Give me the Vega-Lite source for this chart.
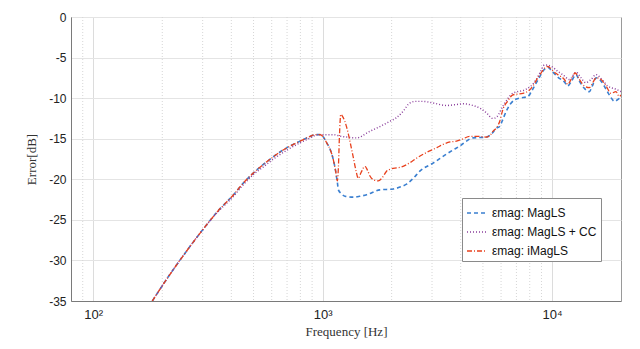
{
  "$schema": "https://vega.github.io/schema/vega-lite/v6.json",
  "width": 550,
  "height": 284,
  "autosize": {"type": "none"},
  "padding": {"left": 71, "top": 17, "right": 19, "bottom": 48},
  "background": "white",
  "config": {
    "view": {"stroke": "#9a9a9a", "strokeWidth": 1},
    "axis": {
      "labelFont": "Liberation Sans",
      "labelFontSize": 12,
      "labelColor": "#222",
      "titleFont": "Liberation Serif",
      "titleFontSize": 13,
      "titleFontWeight": "normal",
      "titleColor": "#333",
      "domainColor": "#7a7a7a",
      "ticks": false
    }
  },
  "datasets": {
    "minor": [
      {"f": 90}, {"f": 200}, {"f": 300}, {"f": 400}, {"f": 500}, {"f": 600}, {"f": 700}, {"f": 800}, {"f": 900},
      {"f": 2000}, {"f": 3000}, {"f": 4000}, {"f": 5000}, {"f": 6000}, {"f": 7000}, {"f": 8000}, {"f": 9000}
    ],
    "curves": [
      {"s": "εmag: MagLS", "f": 181, "v": -35},
      {"s": "εmag: MagLS", "f": 215, "v": -31.8},
      {"s": "εmag: MagLS", "f": 250, "v": -29.2},
      {"s": "εmag: MagLS", "f": 293, "v": -26.6},
      {"s": "εmag: MagLS", "f": 350, "v": -23.9},
      {"s": "εmag: MagLS", "f": 409, "v": -21.9},
      {"s": "εmag: MagLS", "f": 450, "v": -20.5},
      {"s": "εmag: MagLS", "f": 500, "v": -19.2},
      {"s": "εmag: MagLS", "f": 550, "v": -18.2},
      {"s": "εmag: MagLS", "f": 611, "v": -17.2},
      {"s": "εmag: MagLS", "f": 700, "v": -16.1},
      {"s": "εmag: MagLS", "f": 798, "v": -15.3},
      {"s": "εmag: MagLS", "f": 870, "v": -14.8},
      {"s": "εmag: MagLS", "f": 928, "v": -14.5},
      {"s": "εmag: MagLS", "f": 975, "v": -14.5},
      {"s": "εmag: MagLS", "f": 1008, "v": -14.8},
      {"s": "εmag: MagLS", "f": 1042, "v": -15.5},
      {"s": "εmag: MagLS", "f": 1078, "v": -16.3},
      {"s": "εmag: MagLS", "f": 1114, "v": -17.6},
      {"s": "εmag: MagLS", "f": 1140, "v": -19.0},
      {"s": "εmag: MagLS", "f": 1160, "v": -20.4},
      {"s": "εmag: MagLS", "f": 1172, "v": -21.3},
      {"s": "εmag: MagLS", "f": 1210, "v": -21.8},
      {"s": "εmag: MagLS", "f": 1253, "v": -22.1},
      {"s": "εmag: MagLS", "f": 1361, "v": -22.2},
      {"s": "εmag: MagLS", "f": 1450, "v": -22.1},
      {"s": "εmag: MagLS", "f": 1557, "v": -21.9},
      {"s": "εmag: MagLS", "f": 1778, "v": -21.3},
      {"s": "εmag: MagLS", "f": 2032, "v": -21.2},
      {"s": "εmag: MagLS", "f": 2200, "v": -20.9},
      {"s": "εmag: MagLS", "f": 2323, "v": -20.6},
      {"s": "εmag: MagLS", "f": 2500, "v": -19.8},
      {"s": "εmag: MagLS", "f": 2654, "v": -19.0},
      {"s": "εmag: MagLS", "f": 3032, "v": -18.0},
      {"s": "εmag: MagLS", "f": 3467, "v": -16.9},
      {"s": "εmag: MagLS", "f": 3962, "v": -15.9},
      {"s": "εmag: MagLS", "f": 4527, "v": -14.9},
      {"s": "εmag: MagLS", "f": 5174, "v": -14.8},
      {"s": "εmag: MagLS", "f": 5500, "v": -14.3},
      {"s": "εmag: MagLS", "f": 5720, "v": -13.7},
      {"s": "εmag: MagLS", "f": 5911, "v": -13.5},
      {"s": "εmag: MagLS", "f": 6110, "v": -12.6},
      {"s": "εmag: MagLS", "f": 6323, "v": -11.6},
      {"s": "εmag: MagLS", "f": 6600, "v": -10.7},
      {"s": "εmag: MagLS", "f": 6871, "v": -10.2},
      {"s": "εmag: MagLS", "f": 7223, "v": -10.0},
      {"s": "εmag: MagLS", "f": 7850, "v": -9.8},
      {"s": "εmag: MagLS", "f": 8100, "v": -9.3},
      {"s": "εmag: MagLS", "f": 8393, "v": -8.5},
      {"s": "εmag: MagLS", "f": 8750, "v": -7.6},
      {"s": "εmag: MagLS", "f": 9120, "v": -6.7},
      {"s": "εmag: MagLS", "f": 9588, "v": -6.2},
      {"s": "εmag: MagLS", "f": 9950, "v": -6.6},
      {"s": "εmag: MagLS", "f": 10600, "v": -7.4},
      {"s": "εmag: MagLS", "f": 11330, "v": -8.0},
      {"s": "εmag: MagLS", "f": 11710, "v": -8.5},
      {"s": "εmag: MagLS", "f": 12120, "v": -8.0},
      {"s": "εmag: MagLS", "f": 12740, "v": -7.1},
      {"s": "εmag: MagLS", "f": 13170, "v": -7.9},
      {"s": "εmag: MagLS", "f": 13850, "v": -8.8},
      {"s": "εmag: MagLS", "f": 14550, "v": -9.2},
      {"s": "εmag: MagLS", "f": 15000, "v": -8.5},
      {"s": "εmag: MagLS", "f": 15570, "v": -7.5},
      {"s": "εmag: MagLS", "f": 16370, "v": -7.9},
      {"s": "εmag: MagLS", "f": 17210, "v": -8.9},
      {"s": "εmag: MagLS", "f": 17780, "v": -9.6},
      {"s": "εmag: MagLS", "f": 18800, "v": -10.4},
      {"s": "εmag: MagLS", "f": 19300, "v": -10.2},
      {"s": "εmag: MagLS", "f": 20000, "v": -9.9},

      {"s": "εmag: MagLS + CC", "f": 181, "v": -35},
      {"s": "εmag: MagLS + CC", "f": 215, "v": -31.8},
      {"s": "εmag: MagLS + CC", "f": 250, "v": -29.2},
      {"s": "εmag: MagLS + CC", "f": 293, "v": -26.6},
      {"s": "εmag: MagLS + CC", "f": 350, "v": -24.0},
      {"s": "εmag: MagLS + CC", "f": 409, "v": -22.1},
      {"s": "εmag: MagLS + CC", "f": 450, "v": -20.7},
      {"s": "εmag: MagLS + CC", "f": 500, "v": -19.4},
      {"s": "εmag: MagLS + CC", "f": 550, "v": -18.5},
      {"s": "εmag: MagLS + CC", "f": 611, "v": -17.5},
      {"s": "εmag: MagLS + CC", "f": 700, "v": -16.4},
      {"s": "εmag: MagLS + CC", "f": 798, "v": -15.5},
      {"s": "εmag: MagLS + CC", "f": 870, "v": -15.0},
      {"s": "εmag: MagLS + CC", "f": 928, "v": -14.6},
      {"s": "εmag: MagLS + CC", "f": 975, "v": -14.5},
      {"s": "εmag: MagLS + CC", "f": 1040, "v": -14.5},
      {"s": "εmag: MagLS + CC", "f": 1114, "v": -14.5},
      {"s": "εmag: MagLS + CC", "f": 1200, "v": -14.7},
      {"s": "εmag: MagLS + CC", "f": 1274, "v": -14.8},
      {"s": "εmag: MagLS + CC", "f": 1408, "v": -14.9},
      {"s": "εmag: MagLS + CC", "f": 1480, "v": -14.7},
      {"s": "εmag: MagLS + CC", "f": 1557, "v": -14.3},
      {"s": "εmag: MagLS + CC", "f": 1660, "v": -13.9},
      {"s": "εmag: MagLS + CC", "f": 1778, "v": -13.5},
      {"s": "εmag: MagLS + CC", "f": 1950, "v": -12.9},
      {"s": "εmag: MagLS + CC", "f": 2102, "v": -12.4},
      {"s": "εmag: MagLS + CC", "f": 2246, "v": -11.6},
      {"s": "εmag: MagLS + CC", "f": 2401, "v": -10.6},
      {"s": "εmag: MagLS + CC", "f": 2550, "v": -10.4},
      {"s": "εmag: MagLS + CC", "f": 2743, "v": -10.4},
      {"s": "εmag: MagLS + CC", "f": 3032, "v": -10.6},
      {"s": "εmag: MagLS + CC", "f": 3467, "v": -10.9},
      {"s": "εmag: MagLS + CC", "f": 3800, "v": -10.8},
      {"s": "εmag: MagLS + CC", "f": 4095, "v": -10.7},
      {"s": "εmag: MagLS + CC", "f": 4527, "v": -10.9},
      {"s": "εmag: MagLS + CC", "f": 4900, "v": -11.3},
      {"s": "εmag: MagLS + CC", "f": 5174, "v": -11.8},
      {"s": "εmag: MagLS + CC", "f": 5528, "v": -12.5},
      {"s": "εmag: MagLS + CC", "f": 5750, "v": -12.3},
      {"s": "εmag: MagLS + CC", "f": 6110, "v": -11.0},
      {"s": "εmag: MagLS + CC", "f": 6754, "v": -9.4},
      {"s": "εmag: MagLS + CC", "f": 7723, "v": -8.9},
      {"s": "εmag: MagLS + CC", "f": 8100, "v": -8.5},
      {"s": "εmag: MagLS + CC", "f": 8538, "v": -7.7},
      {"s": "εmag: MagLS + CC", "f": 8900, "v": -6.8},
      {"s": "εmag: MagLS + CC", "f": 9278, "v": -5.9},
      {"s": "εmag: MagLS + CC", "f": 9950, "v": -6.1},
      {"s": "εmag: MagLS + CC", "f": 10600, "v": -6.7},
      {"s": "εmag: MagLS + CC", "f": 11140, "v": -7.1},
      {"s": "εmag: MagLS + CC", "f": 11920, "v": -7.7},
      {"s": "εmag: MagLS + CC", "f": 12740, "v": -6.8},
      {"s": "εmag: MagLS + CC", "f": 13400, "v": -7.5},
      {"s": "εmag: MagLS + CC", "f": 14030, "v": -8.1},
      {"s": "εmag: MagLS + CC", "f": 14800, "v": -7.7},
      {"s": "εmag: MagLS + CC", "f": 15570, "v": -7.1},
      {"s": "εmag: MagLS + CC", "f": 16500, "v": -7.7},
      {"s": "εmag: MagLS + CC", "f": 17490, "v": -8.5},
      {"s": "εmag: MagLS + CC", "f": 19010, "v": -8.9},
      {"s": "εmag: MagLS + CC", "f": 20000, "v": -9.2},

      {"s": "εmag: iMagLS", "f": 181, "v": -35},
      {"s": "εmag: iMagLS", "f": 215, "v": -31.8},
      {"s": "εmag: iMagLS", "f": 250, "v": -29.2},
      {"s": "εmag: iMagLS", "f": 293, "v": -26.6},
      {"s": "εmag: iMagLS", "f": 350, "v": -23.9},
      {"s": "εmag: iMagLS", "f": 409, "v": -21.9},
      {"s": "εmag: iMagLS", "f": 450, "v": -20.5},
      {"s": "εmag: iMagLS", "f": 500, "v": -19.2},
      {"s": "εmag: iMagLS", "f": 550, "v": -18.2},
      {"s": "εmag: iMagLS", "f": 611, "v": -17.2},
      {"s": "εmag: iMagLS", "f": 700, "v": -16.1},
      {"s": "εmag: iMagLS", "f": 798, "v": -15.3},
      {"s": "εmag: iMagLS", "f": 870, "v": -14.8},
      {"s": "εmag: iMagLS", "f": 928, "v": -14.5},
      {"s": "εmag: iMagLS", "f": 975, "v": -14.5},
      {"s": "εmag: iMagLS", "f": 1008, "v": -14.8},
      {"s": "εmag: iMagLS", "f": 1042, "v": -15.5},
      {"s": "εmag: iMagLS", "f": 1078, "v": -16.3},
      {"s": "εmag: iMagLS", "f": 1114, "v": -17.6},
      {"s": "εmag: iMagLS", "f": 1140, "v": -19.0},
      {"s": "εmag: iMagLS", "f": 1160, "v": -20.2},
      {"s": "εmag: iMagLS", "f": 1172, "v": -18.5},
      {"s": "εmag: iMagLS", "f": 1185, "v": -14.5},
      {"s": "εmag: iMagLS", "f": 1200, "v": -12.0},
      {"s": "εmag: iMagLS", "f": 1225, "v": -12.3},
      {"s": "εmag: iMagLS", "f": 1274, "v": -13.6},
      {"s": "εmag: iMagLS", "f": 1320, "v": -15.5},
      {"s": "εmag: iMagLS", "f": 1361, "v": -17.3},
      {"s": "εmag: iMagLS", "f": 1400, "v": -19.0},
      {"s": "εmag: iMagLS", "f": 1431, "v": -19.9},
      {"s": "εmag: iMagLS", "f": 1470, "v": -19.2},
      {"s": "εmag: iMagLS", "f": 1530, "v": -18.4},
      {"s": "εmag: iMagLS", "f": 1570, "v": -18.9},
      {"s": "εmag: iMagLS", "f": 1609, "v": -19.6},
      {"s": "εmag: iMagLS", "f": 1680, "v": -20.1},
      {"s": "εmag: iMagLS", "f": 1748, "v": -20.2},
      {"s": "εmag: iMagLS", "f": 1820, "v": -19.8},
      {"s": "εmag: iMagLS", "f": 1901, "v": -19.0},
      {"s": "εmag: iMagLS", "f": 2000, "v": -18.7},
      {"s": "εmag: iMagLS", "f": 2102, "v": -18.6},
      {"s": "εmag: iMagLS", "f": 2200, "v": -18.5},
      {"s": "εmag: iMagLS", "f": 2323, "v": -18.2},
      {"s": "εmag: iMagLS", "f": 2450, "v": -17.8},
      {"s": "εmag: iMagLS", "f": 2568, "v": -17.4},
      {"s": "εmag: iMagLS", "f": 2750, "v": -16.9},
      {"s": "εmag: iMagLS", "f": 2934, "v": -16.5},
      {"s": "εmag: iMagLS", "f": 3150, "v": -16.1},
      {"s": "εmag: iMagLS", "f": 3352, "v": -15.7},
      {"s": "εmag: iMagLS", "f": 3600, "v": -15.4},
      {"s": "εmag: iMagLS", "f": 3832, "v": -15.3},
      {"s": "εmag: iMagLS", "f": 4100, "v": -15.0},
      {"s": "εmag: iMagLS", "f": 4378, "v": -14.7},
      {"s": "εmag: iMagLS", "f": 4700, "v": -14.7},
      {"s": "εmag: iMagLS", "f": 5174, "v": -14.8},
      {"s": "εmag: iMagLS", "f": 5400, "v": -14.5},
      {"s": "εmag: iMagLS", "f": 5528, "v": -14.1},
      {"s": "εmag: iMagLS", "f": 5750, "v": -13.6},
      {"s": "εmag: iMagLS", "f": 5911, "v": -12.9},
      {"s": "εmag: iMagLS", "f": 6110, "v": -11.4},
      {"s": "εmag: iMagLS", "f": 6400, "v": -10.4},
      {"s": "εmag: iMagLS", "f": 6754, "v": -9.6},
      {"s": "εmag: iMagLS", "f": 7100, "v": -9.5},
      {"s": "εmag: iMagLS", "f": 7465, "v": -9.4},
      {"s": "εmag: iMagLS", "f": 7982, "v": -9.0},
      {"s": "εmag: iMagLS", "f": 8300, "v": -8.4},
      {"s": "εmag: iMagLS", "f": 8676, "v": -7.5},
      {"s": "εmag: iMagLS", "f": 8970, "v": -6.9},
      {"s": "εmag: iMagLS", "f": 9278, "v": -6.3},
      {"s": "εmag: iMagLS", "f": 9588, "v": -6.1},
      {"s": "εmag: iMagLS", "f": 9920, "v": -6.4},
      {"s": "εmag: iMagLS", "f": 10250, "v": -6.8},
      {"s": "εmag: iMagLS", "f": 10600, "v": -7.1},
      {"s": "εmag: iMagLS", "f": 11330, "v": -7.7},
      {"s": "εmag: iMagLS", "f": 11710, "v": -8.3},
      {"s": "εmag: iMagLS", "f": 12120, "v": -7.7},
      {"s": "εmag: iMagLS", "f": 12620, "v": -6.9},
      {"s": "εmag: iMagLS", "f": 13170, "v": -7.7},
      {"s": "εmag: iMagLS", "f": 13850, "v": -8.5},
      {"s": "εmag: iMagLS", "f": 14550, "v": -8.7},
      {"s": "εmag: iMagLS", "f": 15000, "v": -8.2},
      {"s": "εmag: iMagLS", "f": 15570, "v": -7.5},
      {"s": "εmag: iMagLS", "f": 16370, "v": -7.7},
      {"s": "εmag: iMagLS", "f": 17210, "v": -8.5},
      {"s": "εmag: iMagLS", "f": 18090, "v": -9.4},
      {"s": "εmag: iMagLS", "f": 19010, "v": -9.2},
      {"s": "εmag: iMagLS", "f": 19660, "v": -9.8},
      {"s": "εmag: iMagLS", "f": 20000, "v": -9.6}
    ]
  },
  "layer": [
    {
      "data": {"name": "minor"},
      "mark": {"type": "rule", "color": "#d6d6d6", "strokeDash": [1, 2], "strokeWidth": 1},
      "encoding": {
        "x": {
          "field": "f",
          "type": "quantitative",
          "scale": {"type": "log", "domain": [80, 20000], "nice": false},
          "axis": {
            "values": [100, 1000, 10000],
            "labelExpr": "datum.value == 100 ? '10²' : datum.value == 1000 ? '10³' : '10⁴'",
            "labelFontSize": 13,
            "grid": true,
            "gridColor": "#dcdcdc",
            "labelPadding": 7,
            "title": "Frequency [Hz]",
            "titlePadding": 4
          }
        }
      }
    },
    {
      "data": {"name": "curves"},
      "mark": {"type": "line", "interpolate": "monotone", "clip": true},
      "encoding": {
        "x": {"field": "f", "type": "quantitative"},
        "y": {
          "field": "v",
          "type": "quantitative",
          "scale": {"domain": [-35, 0], "nice": false},
          "axis": {
            "values": [-35, -30, -25, -20, -15, -10, -5, 0],
            "labelExpr": "'' + datum.value",
            "grid": true,
            "gridColor": "#e4e4e4",
            "labelPadding": 5,
            "title": "Error[dB]",
            "titlePadding": 10
          }
        },
        "color": {
          "field": "s",
          "type": "nominal",
          "scale": {
            "domain": ["εmag: MagLS", "εmag: MagLS + CC", "εmag: iMagLS"],
            "range": ["#3a7fd0", "#8b3f9c", "#e8401c"]
          },
          "legend": {
            "title": null,
            "orient": "none",
            "legendX": 391,
            "legendY": 181,
            "fillColor": "white",
            "strokeColor": "#8a8a8a",
            "padding": 4,
            "symbolType": "stroke",
            "symbolSize": 400,
            "symbolStrokeWidth": 1.5,
            "labelFont": "Liberation Sans",
            "labelFontSize": 12,
            "labelColor": "#111",
            "rowPadding": 2
          }
        },
        "strokeDash": {
          "field": "s",
          "type": "nominal",
          "scale": {
            "domain": ["εmag: MagLS", "εmag: MagLS + CC", "εmag: iMagLS"],
            "range": [[4, 3], [1, 2], [5, 2, 1, 2]]
          }
        },
        "strokeWidth": {
          "field": "s",
          "type": "ordinal",
          "scale": {
            "domain": ["εmag: MagLS", "εmag: MagLS + CC", "εmag: iMagLS"],
            "range": [1.6, 1.3, 2.2]
          },
          "legend": null
        }
      }
    }
  ]
}
